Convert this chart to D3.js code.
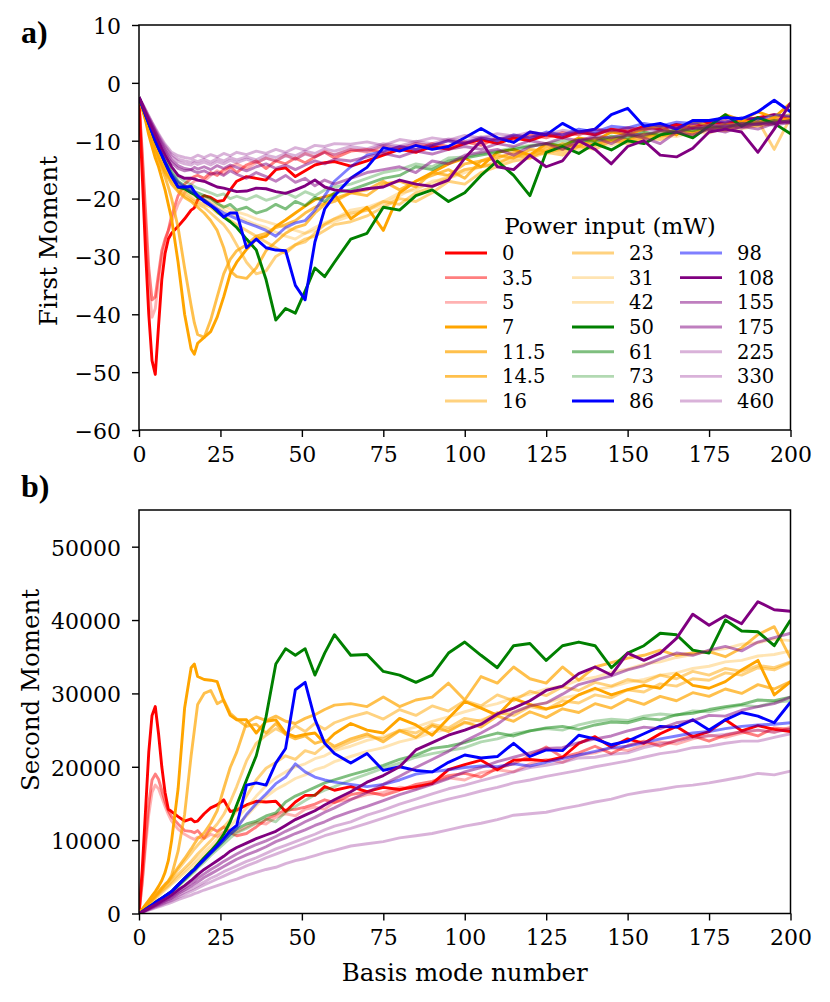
<!DOCTYPE html>
<html><head><meta charset="utf-8">
<script src="https://cdn.jsdelivr.net/npm/d3@7/dist/d3.min.js"></script>
<style>body{margin:0;background:#fff} text{font-family:"DejaVu Serif","Liberation Serif",serif;fill:#000}</style>
</head><body><svg id="c" width="830" height="1002"></svg>
<script>
// ---------------- data ----------------
const modes = [0,1,2,3,4,5,6,7,8,9,10, 12,14,16,17,18,20,22,24,26,28,30, 33,36,39,42,45,48,51,54,57,60,
  65,70,75,80,85,90,95,100,105,110,115,120,125,130,135,140,145,150,155,160,165,170,175,180,185,190,195,200];

const powers = ["0","3.5","5","7","11.5","14.5","16","23","31","42","50","61","73","86","98","108","155","175","225","330","460"];
const baseColors = ["red","red","red","orange","orange","orange","orange","orange","orange","orange","green","green","green","blue","blue","purple","purple","purple","purple","purple","purple"];
const alphas = [1,0.5,0.3,1,0.7,0.7,0.5,0.5,0.3,0.3,1,0.5,0.3,1,0.5,1,0.5,0.5,0.3,0.3,0.3];

const xTicks = [0,25,50,75,100,125,150,175,200];
const firstTicks = [-60,-50,-40,-30,-20,-10,0,10];
const secondTicks = [0,10000,20000,30000,40000,50000];

// First moment per power input
const fm0 = [-3,-16,-29,-40,-48,-50.4,-42,-34,-29.5,-27,-26, -24.8,-23.5,-22,-21.6,-20.2,-19.5,-19.8,-20.5,-20.3,-18.5,-17, -16.2,-16.5,-16.8,-15,-14.7,-16.2,-15.2,-14.2,-13.8,-13.6,
  -14.4,-13.5,-12.5,-11.5,-12,-11,-11.5,-10.5,-9.8,-10.5,-9.5,-10,-9,-9.5,-8.5,-9,-8,-8.5,-7.5,-8,-7.2,-7.8,-6.8,-7,-6.5,-6,-5.5,-6];
const fm3_5 = [-3,-12,-22,-32,-37.5,-37,-33,-29,-27,-25.5,-23, -19.5,-17.5,-16.5,-16.2,-16,-16.5,-15.5,-16,-15,-14.5,-15.5, -14.2,-13.5,-14.8,-13.5,-14,-13,-13.8,-12.8,-12,-13,
  -11.8,-11.5,-12,-11,-11.5,-10.5,-11,-10.2,-10.8,-9.5,-10,-9,-9.5,-8.6,-9,-8,-8.5,-7.8,-8.2,-7.3,-7.8,-7,-7.2,-6.5,-7,-6.2,-6.5,-6];
const fm5 = [-3,-13,-24,-35,-40.5,-39,-34,-30,-27.5,-25.5,-24, -21,-19,-17.5,-17,-16.8,-17,-16,-15.2,-15.8,-14.5,-14, -14.8,-13.8,-13,-13.5,-12.5,-13.2,-12.2,-12.8,-11.8,-12.5,
  -11.5,-12,-11,-11.5,-10.5,-11,-10,-10.5,-9.6,-10,-9.2,-9.6,-8.8,-9.2,-8.4,-8.8,-8,-8.3,-7.6,-8,-7.2,-7.5,-6.8,-7.2,-6.5,-6.8,-6,-6.3];
const fm7 = [-2.5,-4.5,-6.5,-9,-11,-13,-14.5,-16.5,-18.5,-21,-23.5, -31,-40,-46,-46.9,-45,-44,-43,-40.5,-37,-33,-31, -28.8,-27,-26.5,-24.8,-23.7,-22.5,-21.3,-20.2,-19.7,-19.2,
  -23.5,-21.5,-25.5,-19,-17,-15.5,-14,-13,-14.5,-12,-11.5,-12.5,-10.5,-11,-9.5,-10,-8.5,-9,-8,-7.5,-9,-6.5,-7.5,-5.5,-6.5,-5,-6,-3.5];
const fm11_5 = [-2.5,-4.3,-6.2,-8.3,-10,-11.8,-13.3,-14.8,-16.3,-18,-20, -25,-32,-38.5,-41.5,-43.5,-44,-41,-37,-33,-30.5,-29, -28,-26.5,-26,-25,-24.5,-23.8,-22.5,-21.5,-20.8,-20,
  -19,-19.5,-17.5,-17,-18,-15.5,-16,-14,-13.5,-13,-12,-12.5,-11,-11.5,-10.2,-10.8,-9.5,-9.8,-8.8,-9.2,-8,-8.5,-7.5,-8,-6.5,-7,-6,-5.5];
const fm14_5 = [-2.5,-4.2,-6,-8,-9.8,-11.5,-13,-14.3,-15.5,-16.5,-17.5, -18.8,-19.8,-20.5,-21,-21.5,-22.5,-23.8,-25.5,-28.5,-32.5,-33.5, -33.8,-32,-29,-27.5,-26,-25,-24.5,-22.5,-21,-20.5,
  -19,-18.5,-17,-18.5,-17,-16,-15,-16.5,-13.5,-12.5,-13,-11.5,-11.8,-10.5,-11,-9.5,-10,-9,-9.5,-8.3,-8.8,-7.5,-8,-7,-7.5,-6.5,-6.8,-6];
const fm16 = [-2.5,-4.2,-6,-7.8,-9.5,-11.2,-12.7,-14,-15.2,-16.2,-17, -18.5,-19.5,-20.2,-20.6,-21,-21.5,-22.5,-23.5,-24.5,-26,-28, -31,-33,-32.5,-30,-29,-28,-27.5,-26,-24.5,-23.5,
  -22.5,-22,-20.5,-21,-19,-18,-16.5,-15,-14.5,-14,-12.5,-13,-11.5,-12,-10.5,-10.5,-9.8,-10,-9,-9.3,-8.5,-8.8,-7.8,-8,-7.2,-6.5,-11.5,-6];
const fm23 = [-2.5,-4.2,-6,-7.8,-9.5,-11,-12.5,-13.8,-15,-16,-16.8, -18,-19,-19.8,-20.2,-20.5,-21,-21.5,-22.5,-23,-23.8,-24.5, -25.5,-26.5,-27.5,-28.5,-29.5,-28,-27,-26.5,-25.5,-24.5,
  -24,-23,-21.5,-20,-20.5,-19,-17,-17.5,-15.5,-14.5,-13.5,-13,-12,-12.5,-11,-11.5,-10,-10.5,-9.5,-9.8,-8.7,-9,-8,-8.3,-7.5,-7.5,-7,-6.5];
const fm31 = [-2.5,-4.1,-5.8,-7.5,-9.2,-10.8,-12.2,-13.5,-14.6,-15.6,-16.4, -17.6,-18.5,-19.2,-19.5,-19.8,-20.3,-20.8,-21.5,-22,-22.5,-23, -23.8,-24.5,-25,-25.8,-26.5,-27,-26,-25.5,-24.5,-24,
  -23,-22,-21,-19.5,-18,-17.5,-16,-15,-14.5,-13.5,-13,-12,-12.3,-11.2,-11.5,-10.5,-10.8,-9.8,-10,-9,-9.3,-8.5,-8.7,-7.8,-8,-7.3,-7,-6.5];
const fm42 = [-2.5,-4.1,-5.8,-7.4,-9,-10.5,-11.9,-13.2,-14.3,-15.3,-16.1, -17.3,-18.2,-18.9,-19.2,-19.5,-20,-20.5,-21,-21.3,-21.8,-22.3, -22.8,-23.5,-24,-24.5,-25,-25.5,-26,-25,-24.2,-23.5,
  -22,-21.5,-20.5,-19,-18.5,-17,-16.5,-15.5,-14.5,-14,-13,-12.5,-12,-11.5,-11,-10.8,-10.2,-10,-9.5,-9.2,-8.8,-8.5,-8,-7.8,-7.3,-7,-6.5,-6.2];
const fm50 = [-2.5,-4,-5.5,-7,-8.5,-10,-11.3,-12.5,-13.8,-15,-16, -18,-18.3,-19,-19.3,-19.8,-20.3,-21.2,-22.2,-23.2,-24,-25, -27,-28.9,-34,-41,-39,-39.8,-36,-32,-33.5,-31,
  -27,-26,-21.5,-22,-19.5,-18.5,-20.5,-19,-16,-13.5,-16,-19.5,-12,-11,-12.2,-10.5,-11.6,-10,-10.5,-9,-8.5,-9.5,-7.5,-5.5,-7.5,-6,-7,-8.8];
const fm61 = [-2.5,-4,-5.5,-7,-8.5,-10,-11.3,-12.5,-13.6,-14.6,-15.5, -17,-17.8,-18.5,-18.8,-19,-19.5,-20,-20.8,-21.5,-21,-22, -21.5,-22.5,-22,-21,-21.8,-20.5,-21.2,-19.8,-20.5,-19,
  -18.5,-17.5,-16.5,-16,-14.5,-15,-13.5,-13,-12.5,-12,-11.5,-11,-10.5,-10.8,-9.8,-10.2,-9.2,-9.5,-8.5,-9,-8,-8.3,-7.5,-7.8,-7,-7.2,-6.5,-6.8];
const fm73 = [-2.5,-3.9,-5.3,-6.8,-8.2,-9.6,-10.9,-12,-13,-14,-14.8, -16.2,-17,-17.6,-17.9,-18.2,-18.6,-19,-19.5,-19.2,-20,-19.6, -20.2,-19.5,-20.3,-19.8,-19,-19.8,-18.8,-19.5,-18.5,-18,
  -17.5,-16.5,-15.5,-15,-14,-14.5,-13,-12.8,-12.2,-11.8,-11.2,-10.8,-10.5,-10,-10.2,-9.5,-9.8,-9,-9.2,-8.3,-8.6,-7.8,-8,-7.3,-7.5,-6.8,-7,-6.5];
const fm86 = [-2.5,-4,-5.5,-7,-8.5,-10,-11.3,-12.5,-13.8,-15,-16.2, -18,-18,-17.9,-18.8,-19.5,-20.5,-21.2,-22,-23.2,-22.5,-22.5, -28.5,-27,-28.5,-28.9,-29,-35,-37.5,-27.5,-21.8,-19.5,
  -16.5,-14.6,-11.2,-11.8,-10.8,-11.5,-11,-9.5,-7.9,-9.5,-10.3,-8.5,-9,-7,-8.5,-8,-5.5,-4.4,-7.5,-7,-8,-6.5,-6.5,-6,-6.2,-5,-3,-5];
const fm98 = [-2.5,-4,-5.5,-7,-8.5,-10,-11.3,-12.5,-13.7,-14.8,-15.8, -17.2,-18,-18.8,-19.1,-19.5,-20.2,-21,-21.8,-22.5,-23,-23.5, -24.2,-24.8,-25.5,-26.5,-25,-24.2,-23.8,-22,-19.5,-17,
  -14.5,-12.5,-11.8,-11,-11.5,-10.8,-10,-10.5,-9.5,-10,-9,-9.5,-8.5,-9,-8,-8.5,-7.5,-7.8,-7,-7.5,-6.8,-7,-6.5,-6.8,-6,-6.3,-5.5,-5.8];
const fm108 = [-2.5,-3.8,-5.2,-6.5,-7.8,-9,-10.2,-11.4,-12.5,-13.5,-14.5, -16,-16.5,-16.5,-16.6,-16.8,-17,-17.5,-18,-18.2,-18.5,-18.8, -18.7,-18.2,-18.3,-18.8,-19.1,-18.5,-17.8,-16.8,-18,-18.5,
  -18.8,-18.3,-18,-16.8,-17.5,-17.9,-16.8,-13,-10,-14.5,-15,-12.5,-14.5,-13.5,-10,-11.5,-14,-11,-10,-12.5,-12.8,-11.3,-8.5,-8,-8.5,-12,-8,-3.5];
const fm155 = [-2.5,-3.7,-5,-6.2,-7.4,-8.6,-9.8,-11,-12,-13,-13.8, -14.8,-15.2,-15,-15.3,-15.5,-15.2,-15.8,-15.5,-16,-15.2,-15.8, -16.5,-15.5,-16.2,-17,-16,-17.2,-16.5,-17.8,-16.8,-17.5,
  -16.5,-15.5,-15,-14.5,-15.5,-13.5,-14,-12.5,-12,-11.5,-12.5,-11,-10.5,-11.5,-10,-9.5,-10.5,-9,-9.5,-10.5,-8.5,-9,-8,-8.5,-7.5,-8,-7,-6.5];
const fm175 = [-2.5,-3.7,-5,-6.2,-7.3,-8.4,-9.5,-10.6,-11.6,-12.5,-13.3, -14.3,-14.8,-15,-14.6,-14.9,-14.5,-15,-14.3,-14.8,-14.2,-14.6, -15.2,-14.5,-14,-14.8,-14.2,-15,-14.2,-13.5,-14,-13.2,
  -13.5,-12.8,-12.2,-12.8,-11.8,-12.3,-11.5,-11,-11.5,-10.5,-11,-10,-10.5,-9.5,-10,-9.2,-9.5,-8.8,-9,-8.3,-8.5,-7.8,-8,-7.5,-7.8,-7,-7.3,-6.8];
const fm225 = [-2.5,-3.6,-4.8,-6,-7.1,-8.2,-9.3,-10.3,-11.2,-12,-12.7, -13.6,-14,-14.2,-13.8,-14.1,-13.7,-14.2,-13.6,-14,-13.4,-13.8, -13.2,-13.8,-13,-13.5,-12.6,-13.2,-12.3,-12.8,-12,-12.4,
  -11.5,-11.8,-10.8,-11.2,-10.5,-10.8,-10,-10.3,-9.6,-10,-9.3,-9.6,-9,-9.2,-8.7,-8.9,-8.3,-8.6,-8,-8.2,-7.7,-7.9,-7.4,-7.6,-7.1,-7.3,-6.8,-7];
const fm330 = [-2.5,-3.6,-4.7,-5.8,-6.9,-8,-9,-10,-10.9,-11.7,-12.4, -13.2,-13.5,-13.7,-13.4,-13.6,-13.2,-13.7,-13.1,-13.5,-12.9,-13.3, -12.8,-13.3,-12.5,-12.9,-12.2,-12.6,-11.8,-12.2,-11.4,-11.8,
  -11,-11.4,-10.5,-10.9,-10.1,-10.5,-9.7,-10.1,-9.3,-9.7,-9,-9.3,-8.7,-9,-8.4,-8.7,-8.1,-8.4,-7.8,-8.1,-7.5,-7.8,-7.2,-7.5,-7,-7.2,-6.7,-6.9];
const fm460 = [-2.5,-3.5,-4.6,-5.7,-6.8,-7.8,-8.8,-9.7,-10.6,-11.3,-12, -12.6,-12.9,-13.1,-12.8,-12.5,-12.9,-12.4,-12.8,-12.2,-12.6,-12, -12.4,-11.8,-12.2,-11.5,-12,-11.2,-11.6,-10.8,-11,-10.5,
  -10.6,-10.2,-10.8,-9.8,-10.2,-9.5,-9.9,-9.1,-9.5,-8.8,-9.2,-8.5,-8.9,-8.2,-8.6,-8,-8.3,-7.7,-8,-7.5,-7.8,-7.2,-7.5,-7,-7.2,-6.8,-7,-6.6];

// Second moment per power input (thousands)
const sm0 = [0,6,14,22,27,28.2,24.5,20,16.5,14.2,13.9, 13.2,12.6,12.9,12.5,12.6,13.6,14.4,14.8,15.5,13.9,14.1, 14.8,15.3,15.2,15.3,13.9,15.2,16.1,16.1,17.3,16.8,
  17.3,16.6,17.2,16.9,17.3,17.7,19.6,20.3,20.9,19.6,20.9,21,20.8,21.3,23.2,24.1,22.7,23.8,23.2,24.5,25.5,24.1,24.8,26.4,24.9,25.6,25.1,24.8];
const sm3_5 = [0,4.5,10,15,18.2,19,18.3,16.8,15.2,14,13.2, 12.2,11.3,11.2,11,11.3,10.3,11.7,11.2,11.8,11,10.6, 10.9,11.8,12.8,13.5,14.1,14.2,14.5,14.9,15.5,15.1,
  16.2,16.6,16.1,16.8,17.6,18,18.8,19.1,18.6,19.8,20.4,21.5,22.7,21.3,21.9,22.8,21.8,22.9,23.5,22.8,23.6,24.2,23.5,24.3,24.8,24.2,25.3,25.1];
const sm5 = [0,4,9,13.5,16.5,17.5,17,15.8,14.6,13.5,12.6, 11.5,10.8,10.3,10.1,10.4,10.2,10.8,10.5,11.1,11.4,11.1, 11.8,12.4,12.2,13.1,13.6,13.3,14.2,14.5,14.2,15.2,
  15.6,16.2,16.5,17.2,17,17.8,18.5,18.2,19.2,19.6,19.3,20.4,21,20.6,21.6,21.9,22.6,22.2,23,23.4,23.1,23.8,24.3,24,24.6,25,24.7,25.4];
const sm7 = [0,0.6,1.2,1.8,2.4,3,3.7,4.5,5.6,7.2,9.9, 17,28,33.5,34,32.3,31.9,31.8,31.6,29,27,26.4, 26.4,24.6,26.2,26.4,24.6,24.1,24.4,24.6,23.2,24.5,
  25.9,25,24.6,26.6,25.7,24.3,26.6,28.9,28,27,29.3,28.5,27.9,28.4,29.8,30.7,29.8,30.5,31.1,30.7,32.7,31.1,30.7,31.6,33.2,34.5,29.8,31.6];
const sm11_5 = [0,0.5,1,1.5,2,2.5,3,3.5,4,4.4,5.2, 8.5,13.5,21.5,25,28.5,30,30.4,28.6,29.1,27.3,26.5, 25.5,25.8,24.6,25.9,24.4,23.8,24.2,23.2,23.6,22.8,
  23.8,24.5,23.4,24.9,24,25.6,24.8,26.1,25.4,26.9,26.2,27.5,26.7,27.9,27.4,28.6,28,29.2,28.5,29.6,29,30.1,29.6,30.6,30,31.2,30.6,31.6];
const sm14_5 = [0,0.5,1,1.4,1.9,2.4,2.9,3.4,3.9,4.4,5, 6.3,7.5,8.8,9.5,10.2,11,12.3,14,17,19.9,22, 26,26.8,26.3,26.9,26.2,25.9,26.6,27.1,27.8,28.4,
  28.6,28.2,29.5,28.2,29.1,29.5,31.4,29.1,32.3,31.4,33.6,32,31.4,33.6,31.8,33.6,34.2,34.8,35.2,35.9,35.2,35.5,35.7,35,36.2,38,39.1,34.8];
const sm16 = [0,0.5,1,1.4,1.8,2.3,2.8,3.3,3.8,4.3,4.8, 6,7.1,8.2,8.8,9.3,10.3,11.2,12.2,13.5,15.2,17.3, 20.8,23.2,24.3,25.2,24.5,25.6,24.8,25.9,25.1,26,
  26.8,27.4,26.5,27.8,27,28.3,27.6,29,28.3,29.8,29,30.3,29.7,30.9,30.4,31.5,31,31.9,31.5,32.5,32,33,32.5,33.4,33,33.8,33.5,34.3];
const sm23 = [0,0.5,0.9,1.4,1.8,2.2,2.7,3.1,3.5,3.9,4.4, 5.3,6.2,7.1,7.6,8.1,9,9.9,10.9,11.8,12.8,14, 16,18.2,19.8,20.6,21.5,21,22.2,21.8,22.9,22.5,
  23.4,24.2,23.8,25,24.6,25.8,25.3,26.6,26.2,27.4,27,28.2,27.8,29,28.7,29.8,29.4,30.5,30.2,31.3,31,32,31.8,32.8,32.5,33.5,33.2,34.2];
const sm31 = [0,0.4,0.9,1.3,1.7,2.1,2.5,2.9,3.3,3.7,4.1, 5,5.8,6.7,7.1,7.6,8.4,9.2,10.1,11,11.9,12.9, 14.4,16,17.4,18.5,19.3,20,20.4,21.1,21.5,22.2,
  22.8,23.6,24.1,24.9,25.4,26.2,26.8,27.5,28.1,28.6,29.4,29.9,30.6,31,31.8,32.2,32.9,33.3,34,34.3,34.9,35.3,35.8,36.1,36.7,36.9,37.4,37.2];
const sm42 = [0,0.4,0.8,1.2,1.6,2,2.4,2.8,3.2,3.6,4, 4.7,5.5,6.3,6.7,7.1,7.9,8.7,9.5,10.3,11.1,12, 13.3,14.7,15.9,16.9,17.6,18.4,18.9,19.6,20,20.7,
  21.4,22.1,22.6,23.4,23.9,24.7,25.1,25.9,26.4,27.1,27.5,28.3,28.7,29.4,29.8,30.5,30.9,31.5,31.9,32.5,32.8,33.4,33.7,34.3,34.5,35.1,35.3,35.8];
const sm50 = [0,0.25,0.55,0.85,1.15,1.5,1.8,2.1,2.4,2.7,3, 3.9,4.8,5.7,6.1,6.6,7.6,8.5,9.5,10.8,12.5,14.8, 18.2,21.5,26.8,34,36.1,35.2,36.1,32.5,35.5,38,
  35.2,35.3,33,32.5,31.5,32.5,35.5,37,35.2,33.5,36.5,36.8,34.5,36.5,37,36.5,33.5,35.5,36.5,38.2,38,35.9,35.5,40,38.5,38.4,36.5,40];
const sm61 = [0,0.25,0.55,0.85,1.15,1.45,1.75,2.05,2.35,2.6,2.9, 3.8,4.6,5.5,5.9,6.4,7.3,8.2,9,9.9,10.8,11.5, 12.2,12.6,13.3,13.7,15.2,16,16.6,17.2,17.8,18.2,
  18.9,19.5,20.2,21,21.6,22.5,22.8,23.3,24,24.6,24.2,24.9,25.3,25.5,25.1,25.7,26.1,26,26.6,26.4,27.1,27.3,27.8,28.2,28.5,29.1,29,29.5];
const sm73 = [0,0.25,0.5,0.8,1.1,1.4,1.7,2,2.3,2.55,2.85, 3.7,4.5,5.3,5.7,6.2,7,7.9,8.7,9.5,10.3,11, 11.6,12.3,12.9,12.5,13.8,14.6,15.4,16.2,16.8,17.3,
  18.2,19,19.8,20.5,21.3,21.8,22.2,22.6,23.4,23.8,24.5,24.9,25.2,25,25.7,26.2,26.5,26.3,26.9,27.2,27,27.6,27.5,28,28.4,28.2,28.8,29];
const sm86 = [0,0.25,0.55,0.85,1.15,1.5,1.8,2.1,2.4,2.7,3, 3.9,4.8,5.6,6,6.5,7.4,8.3,9.2,10.2,11.3,12, 17.5,17.8,17.5,20.5,22.5,30.5,31.5,26.5,23.2,21.8,
  20.5,21.8,19.5,20,19.5,19.3,20.6,21.6,21.2,21.4,23.2,21.4,22.3,22.2,24.3,23.8,23,23.5,24.5,25.5,25.4,26.4,25,26.4,27.4,26.9,26,28.8];
const sm98 = [0,0.25,0.55,0.85,1.15,1.45,1.75,2.05,2.35,2.65,2.95, 3.85,4.7,5.6,6,6.4,7.3,8.2,9.1,10,10.8,11.6, 13.5,15,16.3,17.7,18.6,20.4,19.3,18.6,18.2,17.9,
  17.6,17.3,17.6,18.2,19,19.3,19.6,19.9,20.1,20,20.4,20.1,20.6,21.1,21.6,22.1,22.6,22.8,23.3,23.8,24.2,24.6,24.8,25.2,25.5,25.7,25.8,26];
const sm108 = [0,0.22,0.45,0.7,0.95,1.2,1.45,1.7,1.95,2.2,2.5, 3.2,3.8,4.5,4.9,5.3,6,6.6,7.2,7.8,8.5,9, 9.6,10.2,10.7,11.2,12,12.8,13.4,14,14.8,15.5,
  16.6,17.9,18.8,20,22.3,23.3,24.3,25,25.8,27.2,28,29,30.4,31,32.7,33.6,32.5,35.5,34.5,35.5,37.5,40.8,39.3,40.6,39.5,42.5,41.4,41.2];
const sm155 = [0,0.2,0.42,0.65,0.88,1.1,1.33,1.56,1.8,2.03,2.3, 2.9,3.5,4.1,4.4,4.8,5.4,6,6.5,7.1,7.6,8.1, 8.8,9.4,9.9,10.5,11.2,11.8,12.5,13.1,13.8,14.4,
  15.5,16.5,17.6,18.7,19.9,21,22.1,23.5,24.6,25.8,27.4,28.3,28.7,29.9,31.2,31.8,32.4,33.2,33.8,34.7,35.5,35.2,35.9,36.4,35.8,37,37.6,38.2];
const sm175 = [0,0.2,0.4,0.62,0.84,1.05,1.26,1.47,1.68,1.9,2.1, 2.7,3.2,3.7,4,4.3,4.9,5.4,5.9,6.4,6.9,7.4, 8,8.5,9.1,9.8,10.3,10.9,11.4,12,12.5,13.1,
  13.9,14.6,15.4,16.2,16.9,17.6,18.4,19.3,19.9,20.7,21.3,21.9,22.5,22.6,23.3,23.8,24.2,24.9,25.4,25.2,26,26.3,27,26.9,27.7,28.2,28.6,29.5];
const sm225 = [0,0.18,0.37,0.56,0.76,0.95,1.14,1.33,1.52,1.7,1.9, 2.4,2.9,3.3,3.55,3.8,4.3,4.8,5.2,5.7,6.1,6.5, 7.1,7.6,8.2,8.8,9.3,9.8,10.3,10.8,11.4,11.9,
  12.5,13.4,14.1,14.9,15.6,16.3,17,17.5,18.1,18.7,19.3,19.9,20.2,20.6,21.2,21.3,21.7,21.9,22.6,23.1,23.5,24,24.2,24.4,24.8,25,24.7,25.2];
const sm330 = [0,0.17,0.34,0.52,0.7,0.88,1.05,1.22,1.4,1.57,1.75, 2.2,2.6,3,3.2,3.45,3.9,4.3,4.7,5.1,5.5,5.9, 6.5,7,7.6,8.1,8.6,9.1,9.6,10.1,10.6,11,
  11.6,12.3,13,13.7,14.4,15,15.6,16.1,16.7,17.2,17.8,18.2,18.7,19.1,19.5,20,20.4,20.8,21.3,21.8,22.1,22.6,22.8,23.2,23.5,23.5,24,24.5];
const sm460 = [0,0.15,0.3,0.45,0.6,0.75,0.9,1.05,1.2,1.35,1.5, 1.9,2.2,2.5,2.7,2.85,3.2,3.5,3.8,4.1,4.4,4.7, 5.2,5.6,6,6.3,6.8,7.2,7.5,7.9,8.3,8.6,
  9.2,9.5,9.8,10.3,10.6,10.9,11.4,11.9,12.3,12.8,13.4,13.6,13.8,14.3,14.7,15.2,15.6,16.2,16.6,16.9,17.3,17.5,17.8,18.2,18.6,19.1,18.9,19.4];

const firstMoment = [fm0,fm3_5,fm5,fm7,fm11_5,fm14_5,fm16,fm23,fm31,fm42,fm50,fm61,fm73,fm86,fm98,fm108,fm155,fm175,fm225,fm330,fm460];
const secondMoment = [sm0,sm3_5,sm5,sm7,sm11_5,sm14_5,sm16,sm23,sm31,sm42,sm50,sm61,sm73,sm86,sm98,sm108,sm155,sm175,sm225,sm330,sm460];

// ---------------- drawing ----------------
const FONT = "'DejaVu Serif','Liberation Serif',serif";
const svg = d3.select("#c");
const L = 139, R = 790.5;
const x = d3.scaleLinear().domain([0,200]).range([L,R]);
const yA = d3.scaleLinear().domain([-60,10]).range([430,25]);
const yB = d3.scaleLinear().domain([0,55000]).range([913.5,510]);
const TICK = 22;
const LW = 2.9;

function panel(y, series, scale, ticks, id, label, labelX, labelY, tag, tagY) {
  const [b, t] = y.range();
  svg.append("clipPath").attr("id", id).append("rect")
    .attr("x", L).attr("y", t).attr("width", R - L).attr("height", b - t);
  const g = svg.append("g").attr("clip-path", `url(#${id})`);
  const line = d3.line().x((d, i) => x(modes[i])).y(d => y(d * scale));
  series.forEach((s, k) => {
    g.append("path").attr("d", line(s)).attr("fill", "none")
      .attr("stroke", baseColors[k]).attr("stroke-opacity", alphas[k])
      .attr("stroke-width", LW).attr("stroke-linejoin", "round").attr("stroke-linecap", "butt");
  });
  const xa = svg.append("g").attr("transform", `translate(0,${b})`)
    .call(d3.axisBottom(x).tickValues(xTicks).tickSize(7).tickSizeOuter(0).tickPadding(9));
  const ya = svg.append("g").attr("transform", `translate(${L},0)`)
    .call(d3.axisLeft(y).tickValues(ticks).tickSize(7).tickSizeOuter(0).tickPadding(11).tickFormat(d3.format("d")));
  [xa, ya].forEach(a => {
    a.attr("font-family", null).attr("font-size", null);
    a.select(".domain").remove();
    a.selectAll(".tick line").attr("stroke", "#000").attr("stroke-width", 1.4);
    a.selectAll(".tick text").style("font-family", FONT).style("font-size", TICK + "px").attr("fill", "#000");
  });
  ya.selectAll(".tick text").attr("dy", "0.38em");
  svg.append("rect").attr("x", L).attr("y", t).attr("width", R - L).attr("height", b - t)
    .attr("fill", "none").attr("stroke", "#000").attr("stroke-width", 1.5);
  svg.append("text").attr("transform", `translate(${labelX},${labelY}) rotate(-90)`)
    .attr("text-anchor", "middle").style("font-family", FONT).style("font-size", "24.5px").text(label);
  svg.append("text").attr("x", 21).attr("y", tagY)
    .attr("font-weight", "bold").style("font-size", "32px").style("font-family", "'Liberation Serif',serif").text(tag);
}

panel(yA, firstMoment, 1, firstTicks, "clipA", "First Moment", 57, 241, "a)", 43);
panel(yB, secondMoment, 1000, secondTicks, "clipB", "Second Moment", 39, 690, "b)", 497);

svg.append("text").attr("x", (L + R) / 2).attr("y", 981).attr("text-anchor", "middle")
  .style("font-family", FONT).style("font-size", "24.5px").text("Basis mode number");

// legend
const leg = svg.append("g");
leg.append("text").attr("x", 610).attr("y", 234).attr("text-anchor", "middle")
  .style("font-family", FONT).style("font-size", "23px").text("Power input (mW)");
const colX = [445, 572, 680];
const rowY0 = 253, rowDY = 24.67;
powers.forEach((p, k) => {
  const c = Math.floor(k / 7), r = k % 7;
  const yy = rowY0 + r * rowDY;
  leg.append("line").attr("x1", colX[c]).attr("x2", colX[c] + 42).attr("y1", yy).attr("y2", yy)
    .attr("stroke", baseColors[k]).attr("stroke-opacity", alphas[k]).attr("stroke-width", LW);
  leg.append("text").attr("x", colX[c] + 57).attr("y", yy + 7).style("font-family", FONT).style("font-size", "19.5px").text(p);
});
</script></body></html>
